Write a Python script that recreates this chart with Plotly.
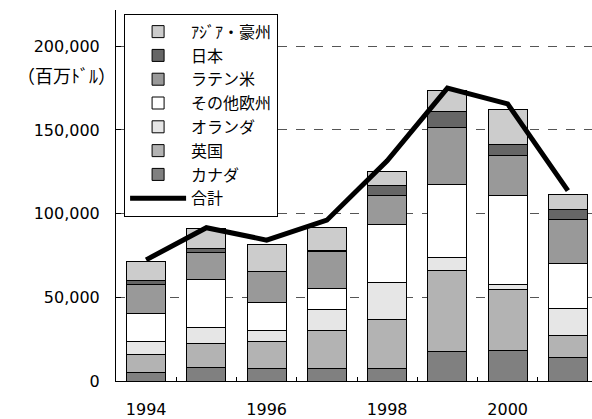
import plotly.graph_objects as go

years = ["1994", "1995", "1996", "1997", "1998", "1999", "2000", "2001"]
tick_text = ["1994", "", "1996", "", "1998", "", "2000", ""]

canada = [5200, 8200, 7200, 7200, 7200, 17600, 18500, 13900]
uk = [10700, 14200, 16200, 22700, 29600, 48500, 36300, 13400]
netherlands = [7500, 9700, 6900, 12600, 21900, 7500, 2800, 16300]
other_europe = [17200, 28400, 16800, 13000, 35100, 43800, 53300, 26500]
latin_america = [17300, 16200, 18200, 22100, 17000, 34300, 24000, 26600]
japan = [2000, 2500, 300, 300, 5900, 9300, 6500, 5900]
asia_oceania = [11300, 11800, 16000, 14100, 8700, 12800, 21100, 9100]
total = [72400, 91600, 84200, 96100, 131600, 175000, 165600, 113800]

y_ticks = [0, 50000, 100000, 150000, 200000]

series = [
    ("カナダ", canada, "#808080", 7),
    ("英国", uk, "#b3b3b3", 6),
    ("オランダ", netherlands, "#e6e6e6", 5),
    ("その他欧州", other_europe, "#ffffff", 4),
    ("ラテン米", latin_america, "#999999", 3),
    ("日本", japan, "#666666", 2),
    ("ｱｼﾞｱ・豪州", asia_oceania, "#cccccc", 1),
]

fig = go.Figure()
for name, vals, color, rank in series:
    fig.add_trace(go.Bar(
        x=years, y=vals, name=name, legendrank=rank,
        marker=dict(color=color, line=dict(color="#000000", width=1)),
    ))

fig.add_trace(go.Scatter(
    x=years, y=total, name="合計", mode="lines", legendrank=8,
    line=dict(color="#000000", width=5),
))

cjk = "Noto Sans CJK JP"
num_font = "DejaVu Sans"

fig.update_layout(
    width=592, height=419,
    margin=dict(l=116, r=0, t=10, b=34),
    paper_bgcolor="#ffffff", plot_bgcolor="#ffffff",
    barmode="stack", bargap=0.35,
    showlegend=True,
    legend=dict(
        traceorder="normal",
        x=0.017, y=0.99, xanchor="left", yanchor="top",
        bgcolor="#ffffff", bordercolor="#000000", borderwidth=1,
        font=dict(family=cjk, size=16, color="#000000"),
        itemwidth=56,
    ),
    xaxis=dict(
        type="category", range=[-0.5, 7.4],
        tickmode="array", tickvals=years, ticktext=tick_text,
        tickson="boundaries", ticks="inside", ticklen=4, tickcolor="#000000",
        showline=True, linecolor="#000000", linewidth=1,
        showgrid=False,
        tickfont=dict(family=num_font, size=16, color="#000000"),
        ticklabelstandoff=14,
    ),
    yaxis=dict(
        range=[0, 221700],
        tickmode="array", tickvals=y_ticks,
        tickformat=",d",
        ticks="inside", ticklen=5, tickcolor="#000000",
        showline=True, linecolor="#000000", linewidth=1,
        showgrid=True, gridcolor="#555555", griddash="dash", gridwidth=1,
        zeroline=False,
        tickfont=dict(family=num_font, size=16, color="#000000"),
        ticklabelstandoff=12,
    ),
    annotations=[dict(
        text="（百万ﾄﾞﾙ）", xref="paper", yref="paper",
        x=-0.105, y=0.824, xanchor="center", yanchor="middle",
        showarrow=False, font=dict(family=cjk, size=18, color="#000000"),
    )],
)

fig.write_html("out.html", config={"displayModeBar": False},
               post_script="document.body.style.margin='0';")
